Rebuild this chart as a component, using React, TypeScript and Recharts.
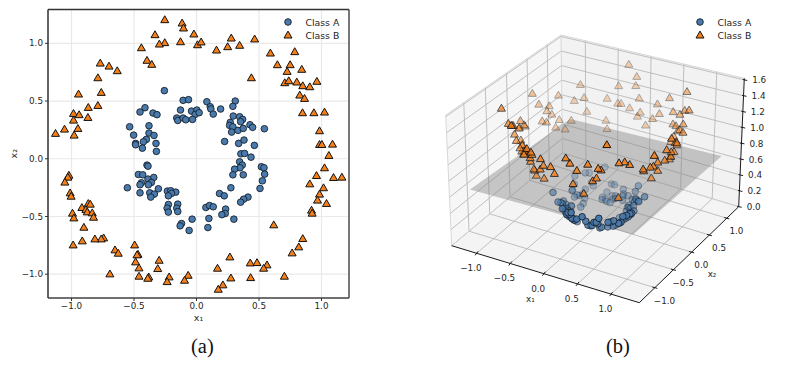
import React from "react";
import { ScatterChart, Scatter, XAxis, YAxis, CartesianGrid, ReferenceLine, Legend } from "recharts";

type P = [number, number];

const classA: P[] = [
  [-0.257,0.59],[-0.107,0.506],[-0.064,0.512],[-0.128,0.422],[-0.04,0.413],[0.003,0.422],[-0.011,0.384],[0.021,0.399],
  [-0.158,0.353],[-0.15,0.332],[-0.107,0.353],[-0.086,0.338],[-0.032,0.341],[-0.412,0.442],[-0.452,0.405],[-0.348,0.396],
  [-0.316,0.382],[-0.535,0.277],[-0.38,0.286],[-0.503,0.205],[-0.38,0.223],[-0.34,0.202],[-0.401,0.168],[-0.425,0.147],
  [-0.487,0.133],[-0.487,0.121],[-0.433,0.092],[-0.324,0.133],[-0.321,0.064],[-0.396,-0.055],[-0.388,-0.064],
  [0.083,0.494],[0.11,0.451],[0.115,0.431],[0.193,0.431],[0.134,0.387],[0.31,0.5],[0.291,0.454],[0.294,0.37],[0.345,0.364],
  [0.369,0.341],[0.353,0.321],[0.27,0.315],[0.265,0.289],[0.291,0.277],[0.281,0.231],[0.332,0.246],[0.374,0.263],[0.428,0.295],
  [0.449,0.272],[0.543,0.26],[0.225,0.15],[0.337,0.133],[0.38,0.162],[0.463,0.116],[0.355,0.043],[0.385,0.046],[0.436,0.014],
  [0.345,-0.026],[0.366,-0.055],[0.348,-0.078],[0.305,-0.09],[0.519,-0.069],[0.54,-0.078],
  [-0.465,-0.136],[-0.43,-0.139],[-0.342,-0.162],[-0.388,-0.176],[-0.441,-0.208],[-0.452,-0.225],[-0.361,-0.205],[-0.385,-0.225],
  [-0.553,-0.251],[-0.305,-0.26],[-0.452,-0.295],[-0.374,-0.295],[-0.337,-0.306],[-0.366,-0.332],[-0.233,-0.28],[-0.206,-0.277],
  [-0.166,-0.289],[-0.2,-0.3],[-0.225,-0.321],[-0.225,-0.396],[-0.15,-0.393],[-0.235,-0.428],[-0.158,-0.428],[-0.225,-0.462],
  [-0.15,-0.457],[-0.035,-0.523],[-0.12,-0.561],[-0.131,-0.581],[-0.059,-0.621],
  [0.291,-0.139],[0.374,-0.139],[0.545,-0.133],[0.527,-0.191],[0.275,-0.251],[0.508,-0.257],[0.184,-0.301],[0.222,-0.321],
  [0.412,-0.332],[0.377,-0.35],[0.353,-0.376],[0.075,-0.422],[0.104,-0.405],[0.134,-0.416],[0.233,-0.436],[0.23,-0.474],
  [0.203,-0.484],[0.099,-0.517],[0.299,-0.523],[0.091,-0.596],
];

const classB: P[] = [
  [-0.254,1.205],[-0.115,1.176],[-0.104,1.133],[-0.021,1.081],[-0.332,1.075],[-0.254,1.006],[-0.297,0.994],[-0.128,1.014],
  [0.008,0.988],[0.037,1.012],[-0.441,0.962],[-0.396,0.853],[-0.358,0.818],[-0.77,0.829],[-0.7,0.803],[-0.634,0.763],
  [-0.789,0.702],[-0.762,0.575],[-0.944,0.561],[-0.789,0.462],[-0.866,0.445],[-0.984,0.393],[-0.939,0.382],[-0.869,0.358],
  [-0.984,0.335],[-0.949,0.263],[-1.056,0.257],[-1.128,0.22],[-0.979,0.205],
  [0.278,1.046],[0.465,1.038],[0.345,0.983],[0.249,0.971],[0.16,0.942],[0.591,0.916],[0.786,0.928],[0.647,0.815],[0.749,0.815],
  [0.842,0.775],[0.725,0.757],[0.439,0.702],[0.706,0.659],[0.738,0.676],[0.802,0.665],[0.85,0.633],[0.906,0.624],[0.963,0.671],
  [0.826,0.552],[0.864,0.523],[0.848,0.399],[0.939,0.399],[1.024,0.405],[0.984,0.243],[0.984,0.124],[1.003,0.124],[1.088,0.127],
  [1.059,0.029],[1.024,-0.078],
  [-1.021,-0.142],[-1.029,-0.159],[-1.053,-0.202],[-1.011,-0.295],[-1.003,-0.324],[-0.866,-0.387],[-0.85,-0.393],[-0.917,-0.422],
  [-0.885,-0.439],[-0.874,-0.46],[-0.834,-0.468],[-0.992,-0.471],[-0.981,-0.512],[-0.824,-0.506],[-0.901,-0.593],[-0.743,-0.685],
  [-0.762,-0.694],[-0.813,-0.694],[-0.914,-0.711],[-0.987,-0.746],[-0.495,-0.746],[-0.652,-0.789],[-0.626,-0.818],[-0.468,-0.827],
  [-0.476,-0.832],[-0.299,-0.879],[-0.487,-0.893],[-0.46,-0.945],[-0.31,-0.951],[-0.693,-0.997],[-0.46,-1.017],[-0.382,-1.023],
  [-0.39,-1.035],[-0.219,-1.023],[-0.235,-1.064],[-0.067,-1.009],[-0.096,-1.052],
  [0.96,-0.145],[1.096,-0.162],[1.163,-0.159],[0.906,-0.217],[1.016,-0.251],[0.984,-0.306],[0.968,-0.358],[1.04,-0.387],
  [0.92,-0.445],[0.925,-0.471],[0.618,-0.572],[0.85,-0.691],[0.818,-0.763],[0.765,-0.815],[0.267,-0.85],[0.168,-0.948],
  [0.43,-0.902],[0.484,-0.899],[0.564,-0.919],[0.537,-0.948],[0.703,-1.017],[0.433,-1.029],[0.275,-1.032],[0.211,-1.092],[0.174,-1.13],
];

const xyTicks = [-1, -0.5, 0, 0.5, 1];
const zTicks = [0, 0.2, 0.4, 0.6, 0.8, 1.0, 1.2, 1.4, 1.6];
const X1_RANGE: P = [-1.37, 1.42];
const X2_RANGE: P = [-1.41, 1.35];
const Z_MAX = 1.62;
const PLANE_Z = 0.65;
const PLANE_HALF = 1.2;
const PLANE_BACK_HALF = 1.08;

// View of the 3-D box: where the box corners land in the view plane
const floorCorners: P[] = [[451.7, 245.7], [639.3, 302.7], [738.7, 206.7], [562.5, 153]];
const ceilCorners: P[] = [[445.7, 115], [641, 161], [744.3, 78.3], [561, 35]];

function quadMap(q: P[]) {
  const [p0, p1, p2, p3] = q;
  const dx1 = p1[0] - p2[0], dx2 = p3[0] - p2[0], sx = p0[0] - p1[0] + p2[0] - p3[0];
  const dy1 = p1[1] - p2[1], dy2 = p3[1] - p2[1], sy = p0[1] - p1[1] + p2[1] - p3[1];
  const den = dx1 * dy2 - dx2 * dy1;
  const g = (sx * dy2 - dx2 * sy) / den, h = (dx1 * sy - sx * dy1) / den;
  const a = p1[0] - p0[0] + g * p1[0], b = p3[0] - p0[0] + h * p3[0];
  const d = p1[1] - p0[1] + g * p1[1], e = p3[1] - p0[1] + h * p3[1];
  return (u: number, v: number): P => {
    const w = g * u + h * v + 1;
    return [(a * u + b * v + p0[0]) / w, (d * u + e * v + p0[1]) / w];
  };
}
const floorMap = quadMap(floorCorners);
const ceilMap = quadMap(ceilCorners);

function project(x1: number, x2: number, z: number) {
  const u = (x1 - X1_RANGE[0]) / (X1_RANGE[1] - X1_RANGE[0]);
  const v = (x2 - X2_RANGE[0]) / (X2_RANGE[1] - X2_RANGE[0]);
  const f = floorMap(u, v), c = ceilMap(u, v), t = z / Z_MAX;
  return { x: f[0] + (c[0] - f[0]) * t, y: f[1] + (c[1] - f[1]) * t };
}

function lift(points: P[]) {
  const rows = points.map(([a, b]) => {
    const z = a * a + b * b;
    const depth = 0.89 * (0.47 * a - 0.88 * b) / 2.78 + 0.45 * z * 0.75 / Z_MAX;
    return { ...project(a, b, z), depth };
  });
  const lo = Math.min(...rows.map((r) => r.depth));
  const hi = Math.max(...rows.map((r) => r.depth));
  return rows
    .map((r) => ({ x: r.x, y: r.y, alpha: 0.3 + 0.7 * (r.depth - lo) / (hi - lo), depth: r.depth }))
    .sort((m, n) => m.depth - n.depth);
}

const [x1a, x1b] = X1_RANGE;
const [x2a, x2b] = X2_RANGE;
const leftPane = [project(x1a, x2a, 0), project(x1a, x2b, 0), project(x1a, x2b, Z_MAX), project(x1a, x2a, Z_MAX)];
const backPane = [project(x1a, x2b, 0), project(x1b, x2b, 0), project(x1b, x2b, Z_MAX), project(x1a, x2b, Z_MAX)];
const floorPane = [project(x1a, x2a, 0), project(x1b, x2a, 0), project(x1b, x2b, 0), project(x1a, x2b, 0)];
const planeQuad = [
  project(-PLANE_HALF, -PLANE_HALF, PLANE_Z), project(PLANE_HALF, -PLANE_HALF, PLANE_Z),
  project(PLANE_HALF, PLANE_HALF, PLANE_Z), project(-PLANE_BACK_HALF, PLANE_BACK_HALF, PLANE_Z),
];

const gridSegments = [
  ...xyTicks.flatMap((t) => [
    project(t, x2a, 0), project(t, x2b, 0), project(t, x2b, 0), project(t, x2b, Z_MAX),
    project(x1a, t, 0), project(x1b, t, 0), project(x1a, t, 0), project(x1a, t, Z_MAX),
  ]),
  ...zTicks.flatMap((t) => [
    project(x1a, x2a, t), project(x1a, x2b, t), project(x1a, x2b, t), project(x1b, x2b, t),
  ]),
];
const paneEdges = [
  project(x1a, x2a, 0), project(x1a, x2a, Z_MAX), project(x1a, x2a, Z_MAX), project(x1a, x2b, Z_MAX),
  project(x1a, x2b, Z_MAX), project(x1b, x2b, Z_MAX), project(x1a, x2b, 0), project(x1a, x2b, Z_MAX),
  project(x1a, x2a, 0), project(x1a, x2b, 0), project(x1a, x2b, 0), project(x1b, x2b, 0),
];
const shift = (p: { x: number; y: number }, dx: number, dy: number) => ({ x: p.x + dx, y: p.y + dy });
const axisSegments = [
  project(x1a, x2a, 0), project(x1b, x2a, 0), project(x1b, x2a, 0), project(x1b, x2b, 0),
  project(x1b, x2b, 0), project(x1b, x2b, Z_MAX),
  ...xyTicks.flatMap((t) => [
    shift(project(t, x2a, 0), 1.5, -2), shift(project(t, x2a, 0), -1.5, 2),
    shift(project(x1b, t, 0), -2.5, -0.7), shift(project(x1b, t, 0), 2.5, 0.7),
  ]),
  ...zTicks.map((t) => [shift(project(x1b, x2b, t), -1.5, -0.4), shift(project(x1b, x2b, t), 3, 0.6)]).flat(),
];
const fmt = (v: number) => (v < 0 ? "\u2212" : "") + Math.abs(v).toFixed(1);
const tickLabels3d = [
  ...xyTicks.map((t) => ({ ...shift(project(t, x2a, 0), -5.7, 15), label: fmt(t) })),
  ...xyTicks.map((t) => ({ ...shift(project(x1b, t, 0), 9.7, 13), label: fmt(t) })),
  ...zTicks.map((t) => ({ ...shift(project(x1b, x2b, t), 15, 0.5), label: fmt(t) })),
  { x: 530.3, y: 299, label: "x\u2081" },
  { x: 712, y: 273.5, label: "x\u2082" },
];

const BLUE = "#4a7aab";
const ORANGE = "#f5801a";
const FONT = "'DejaVu Sans', sans-serif";
const INK = "#262626";

const Dot = ({ cx, cy, payload, r = 3.3 }: any) => (
  <circle cx={cx} cy={cy} r={r} fill={BLUE} stroke="#15202b" strokeWidth={0.9} opacity={payload?.alpha ?? 1} />
);
const Tri = ({ cx, cy, payload }: any) => (
  <polygon
    points={`${cx},${cy - 3.9} ${cx + 4},${cy + 3} ${cx - 4},${cy + 3}`}
    fill={ORANGE}
    stroke="#111"
    strokeWidth={1}
    strokeLinejoin="miter"
    opacity={payload?.alpha ?? 1}
  />
);
const Blank = () => <g />;
const TickText = ({ cx, cy, payload }: any) => (
  <text x={cx} y={cy} textAnchor="middle" dominantBaseline="central" fontSize={8.8} fontFamily={FONT} fill={INK}>
    {payload.label}
  </text>
);
const polygonLine = (fill: string, opacity = 1) => (p: any) => (
  <polygon points={p.points.map((q: any) => `${q.x},${q.y}`).join(" ")} fill={fill} fillOpacity={opacity} stroke="none" />
);
const pairsLine = (stroke: string, width: number) => (p: any) => {
  let d = "";
  for (let i = 0; i + 1 < p.points.length; i += 2) {
    d += `M${p.points[i].x},${p.points[i].y}L${p.points[i + 1].x},${p.points[i + 1].y}`;
  }
  return <path d={d} stroke={stroke} strokeWidth={width} fill="none" />;
};

const legendNames = ["Class A", "Class B"];
const LegendBox = ({ payload }: any) => (
  <svg width={120} height={34} style={{ display: "block", overflow: "visible" }}>
    {(payload || [])
      .filter((item: any) => legendNames.includes(item.value))
      .map((item: any, i: number) => (
        <g key={item.value}>
          {item.value === "Class A" ? <Dot cx={8} cy={7 + i * 13} /> : <Tri cx={8} cy={7 + i * 13} />}
          <text x={25.5} y={7 + i * 13} dominantBaseline="central" fontSize={9.3} fontFamily={FONT} fill={INK}>
            {item.value}
          </text>
        </g>
      ))}
  </svg>
);

const pts = (arr: P[]) => arr.map(([x, y]) => ({ x, y }));
const lifted = { a: lift(classA), b: lift(classB) };
const tickStyle = { fontSize: 8.8, fontFamily: FONT, fill: INK };
const labelStyle = { fontSize: 9.5, fontFamily: FONT, fill: INK, textAnchor: "middle" as const };

export default function App() {
  return (
    <div style={{ position: "absolute", left: 0, top: 0, width: 786, height: 366, background: "#fff" }}>
      <div style={{ position: "absolute", left: 0, top: 0 }}>
        <ScatterChart width={400} height={330} margin={{ left: 0, right: 51, top: 9.5, bottom: 0 }}>
          <CartesianGrid stroke="#e9e9e9" strokeWidth={1.2} />
          <XAxis
            type="number" dataKey="x" domain={[-1.188, 1.22]} ticks={xyTicks} allowDataOverflow tickFormatter={fmt}
            tick={tickStyle} tickSize={3} tickLine={{ stroke: "#333" }} axisLine={false} interval={0} height={32}
            label={{ value: "x\u2081", position: "insideBottom", offset: 9, style: labelStyle }}
          />
          <YAxis
            type="number" dataKey="y" domain={[-1.206, 1.293]} ticks={xyTicks} allowDataOverflow tickFormatter={fmt}
            tick={tickStyle} tickSize={3} tickLine={{ stroke: "#333" }} axisLine={false} interval={0} width={48}
            label={{ value: "x\u2082", angle: -90, position: "insideLeft", offset: 14, style: labelStyle }}
          />
          <ReferenceLine x={-1.188} stroke="#333" strokeWidth={1.5} />
          <ReferenceLine x={1.22} stroke="#777" strokeWidth={2} />
          <ReferenceLine y={1.293} stroke="#333" strokeWidth={1.5} />
          <ReferenceLine y={-1.206} stroke="#444" strokeWidth={1.5} />
          <Legend
            content={LegendBox} layout="vertical" align="center" verticalAlign="middle"
            wrapperStyle={{ position: "absolute", left: 280, top: 15, width: 120, height: 34 }}
          />
          <Scatter name="Class A" data={pts(classA)} shape={Dot} fill={BLUE} isAnimationActive={false} />
          <Scatter name="Class B" data={pts(classB)} shape={Tri} fill={ORANGE} isAnimationActive={false} />
        </ScatterChart>
      </div>
      <div style={{ position: "absolute", left: 400, top: 0 }}>
        <ScatterChart width={386} height={330} margin={{ left: 0, right: 0, top: 0, bottom: 0 }}>
          <XAxis type="number" dataKey="x" domain={[400, 786]} hide allowDataOverflow />
          <YAxis type="number" dataKey="y" domain={[0, 330]} reversed hide allowDataOverflow />
          <Legend
            content={LegendBox} layout="vertical" align="center" verticalAlign="middle"
            wrapperStyle={{ position: "absolute", left: 292, top: 15, width: 120, height: 34 }}
          />
          <Scatter data={leftPane} shape={Blank} line={polygonLine("#f6f6f6")} legendType="none" isAnimationActive={false} />
          <Scatter data={backPane} shape={Blank} line={polygonLine("#f2f2f2")} legendType="none" isAnimationActive={false} />
          <Scatter data={floorPane} shape={Blank} line={polygonLine("#f4f4f4")} legendType="none" isAnimationActive={false} />
          <Scatter data={gridSegments} shape={Blank} line={pairsLine("#b9b9b9", 0.9)} legendType="none" isAnimationActive={false} />
          <Scatter data={paneEdges} shape={Blank} line={pairsLine("#d4d4d4", 0.9)} legendType="none" isAnimationActive={false} />
          <Scatter data={planeQuad} shape={Blank} line={polygonLine("#808080", 0.42)} legendType="none" isAnimationActive={false} />
          <Scatter data={axisSegments} shape={Blank} line={pairsLine("#1a1a1a", 1)} legendType="none" isAnimationActive={false} />
          <Scatter data={tickLabels3d} shape={TickText} legendType="none" isAnimationActive={false} />
          <Scatter name="Class A" data={lifted.a} shape={Dot} fill={BLUE} isAnimationActive={false} />
          <Scatter name="Class B" data={lifted.b} shape={Tri} fill={ORANGE} isAnimationActive={false} />
        </ScatterChart>
      </div>
      <div style={{ position: "absolute", left: 191, top: 335, font: "20.5px 'Liberation Serif', serif", color: "#111" }}>(a)</div>
      <div style={{ position: "absolute", left: 606, top: 335, font: "20.5px 'Liberation Serif', serif", color: "#111" }}>(b)</div>
    </div>
  );
}
